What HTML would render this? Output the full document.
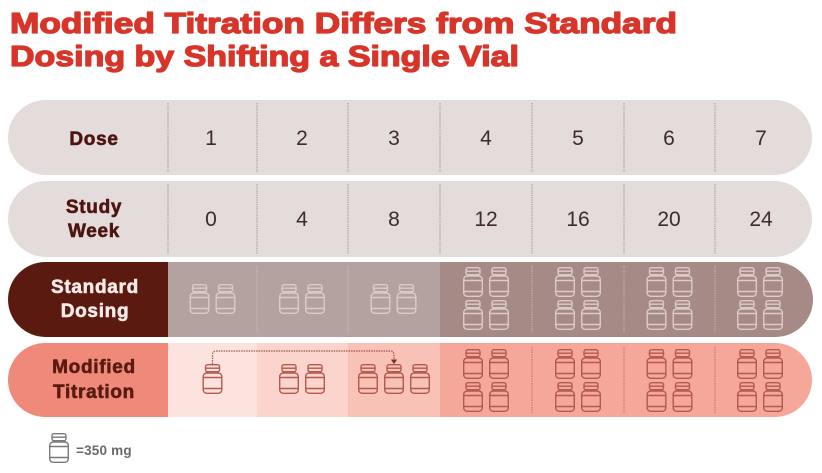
<!DOCTYPE html>
<html>
<head>
<meta charset="utf-8">
<style>
  html,body{margin:0;padding:0;background:#ffffff;}
  body{width:822px;height:473px;overflow:hidden;}
  svg{display:block;}
  .title{font-family:"Liberation Sans",Arial,sans-serif;font-weight:bold;font-size:28.5px;fill:#d8352a;stroke:#d8352a;stroke-width:1.3px;stroke-linejoin:round;}
  .lab{font-family:"Liberation Sans",Arial,sans-serif;font-weight:bold;font-size:19px;letter-spacing:0.7px;text-anchor:middle;stroke-width:0.6px;stroke-linejoin:round;}
  .num{font-family:"Liberation Sans",Arial,sans-serif;font-size:21px;fill:#3f2b2b;text-anchor:middle;}
  .leg{font-family:"Liberation Sans",Arial,sans-serif;font-size:13.5px;fill:#6a6a6a;font-weight:bold;letter-spacing:0.2px;}
</style>
</head>
<body>
<svg width="822" height="473" viewBox="0 0 822 473" xmlns="http://www.w3.org/2000/svg">
  <defs>
    <g id="vial" fill="none" stroke-width="1.4">
      <rect x="3" y="0.7" width="14" height="7" rx="2"/>
      <line x1="3" y1="4.2" x2="17" y2="4.2"/>
      <line x1="4.5" y1="7.7" x2="4.5" y2="9"/>
      <line x1="15.5" y1="7.7" x2="15.5" y2="9"/>
      <rect x="0.7" y="9" width="18.6" height="20.3" rx="3.5"/>
      <line x1="0.7" y1="13.5" x2="19.3" y2="13.5"/>
      <line x1="0.7" y1="24.5" x2="19.3" y2="24.5"/>
      <polygon points="9,13.5 19.3,13.5 19.3,24.5 11,24.5 14,21.5 10,19 13,16.5" stroke="none" fill-opacity="0.45"/>
    </g>
    <clipPath id="r3"><rect x="8" y="262" width="805" height="75" rx="37.5"/></clipPath>
    <clipPath id="r4"><rect x="8" y="343" width="804" height="74" rx="37"/></clipPath>
  </defs>

  <!-- Title -->
  <text class="title" x="10" y="33" textLength="667" lengthAdjust="spacingAndGlyphs">Modified Titration Differs from Standard</text>
  <text class="title" x="10" y="66" textLength="509" lengthAdjust="spacingAndGlyphs">Dosing by Shifting a Single Vial</text>

  <!-- Row 1: Dose -->
  <rect x="8" y="100" width="804" height="75" rx="37.5" fill="#e4dcdb"/>
  <!-- Row 2: Study Week -->
  <rect x="8" y="181" width="804" height="76" rx="38" fill="#e4dcdb"/>

  <g stroke="#9b8f8e" stroke-width="1" stroke-dasharray="1.2 1">
    <line x1="168" y1="103" x2="168" y2="172"/>
    <line x1="257" y1="103" x2="257" y2="172"/>
    <line x1="348" y1="103" x2="348" y2="172"/>
    <line x1="440" y1="103" x2="440" y2="172"/>
    <line x1="532" y1="103" x2="532" y2="172"/>
    <line x1="624" y1="103" x2="624" y2="172"/>
    <line x1="715" y1="103" x2="715" y2="172"/>
    <line x1="168" y1="184" x2="168" y2="254"/>
    <line x1="257" y1="184" x2="257" y2="254"/>
    <line x1="348" y1="184" x2="348" y2="254"/>
    <line x1="440" y1="184" x2="440" y2="254"/>
    <line x1="532" y1="184" x2="532" y2="254"/>
    <line x1="624" y1="184" x2="624" y2="254"/>
    <line x1="715" y1="184" x2="715" y2="254"/>
  </g>

  <text class="lab" x="94" y="145" fill="#4d1510" stroke="#4d1510">Dose</text>
  <text class="num" x="211" y="145">1</text>
  <text class="num" x="302" y="145">2</text>
  <text class="num" x="394" y="145">3</text>
  <text class="num" x="486" y="145">4</text>
  <text class="num" x="578" y="145">5</text>
  <text class="num" x="669" y="145">6</text>
  <text class="num" x="761" y="145">7</text>

  <text class="lab" x="94" y="213" fill="#4d1510" stroke="#4d1510">Study</text>
  <text class="lab" x="94" y="237" fill="#4d1510" stroke="#4d1510">Week</text>
  <text class="num" x="211" y="226">0</text>
  <text class="num" x="302" y="226">4</text>
  <text class="num" x="394" y="226">8</text>
  <text class="num" x="486" y="226">12</text>
  <text class="num" x="578" y="226">16</text>
  <text class="num" x="669" y="226">20</text>
  <text class="num" x="761" y="226">24</text>

  <!-- Row 3: Standard Dosing -->
  <g clip-path="url(#r3)">
    <rect x="0" y="262" width="168" height="75" fill="#5b1a10"/>
    <rect x="168" y="262" width="272" height="75" fill="#b4a2a0"/>
    <rect x="440" y="262" width="380" height="75" fill="#a68a86"/>
  </g>
  <g stroke="#cdbcb9" stroke-width="1" stroke-dasharray="1.2 1.2">
    <line x1="257" y1="266" x2="257" y2="333"/>
    <line x1="348" y1="266" x2="348" y2="333"/>
    <line x1="532" y1="266" x2="532" y2="333"/>
    <line x1="624" y1="266" x2="624" y2="333"/>
    <line x1="715" y1="266" x2="715" y2="333"/>
  </g>
  <text class="lab" x="95" y="293" fill="#f6ebe8" stroke="#f6ebe8">Standard</text>
  <text class="lab" x="95" y="317" fill="#f6ebe8" stroke="#f6ebe8">Dosing</text>

  <g stroke="#dccbc8" fill="#dccbc8">
    <use href="#vial" x="189.5" y="284"/>
    <use href="#vial" x="215.5" y="284"/>
    <use href="#vial" x="279" y="284"/>
    <use href="#vial" x="305" y="284"/>
    <use href="#vial" x="370.5" y="284"/>
    <use href="#vial" x="396.5" y="284"/>

    <use href="#vial" x="463" y="267"/>
    <use href="#vial" x="489" y="267"/>
    <use href="#vial" x="463" y="300"/>
    <use href="#vial" x="489" y="300"/>

    <use href="#vial" x="555" y="267"/>
    <use href="#vial" x="581" y="267"/>
    <use href="#vial" x="555" y="300"/>
    <use href="#vial" x="581" y="300"/>

    <use href="#vial" x="646.5" y="267"/>
    <use href="#vial" x="672.5" y="267"/>
    <use href="#vial" x="646.5" y="300"/>
    <use href="#vial" x="672.5" y="300"/>

    <use href="#vial" x="737" y="267"/>
    <use href="#vial" x="763" y="267"/>
    <use href="#vial" x="737" y="300"/>
    <use href="#vial" x="763" y="300"/>
  </g>

  <!-- Row 4: Modified Titration -->
  <g clip-path="url(#r4)">
    <rect x="0" y="343" width="168" height="74" fill="#ef8a7a"/>
    <rect x="168" y="343" width="89" height="74" fill="#fde3dd"/>
    <rect x="257" y="343" width="91" height="74" fill="#fbd5cd"/>
    <rect x="348" y="343" width="92" height="74" fill="#f8c2b7"/>
    <rect x="440" y="343" width="380" height="74" fill="#f5a79a"/>
  </g>
  <g stroke="#c0645a" stroke-width="1" stroke-dasharray="1.2 1.2">
    <line x1="532" y1="347" x2="532" y2="413"/>
    <line x1="624" y1="347" x2="624" y2="413"/>
    <line x1="715" y1="347" x2="715" y2="413"/>
  </g>
  <text class="lab" x="94" y="373" fill="#5a1a12" stroke="#5a1a12">Modified</text>
  <text class="lab" x="94" y="398" fill="#5a1a12" stroke="#5a1a12">Titration</text>

  <!-- shift arrow -->
  <path d="M212.5 364 V355 Q212.5 351 216.5 351 H390 Q394 351 394 355 V360" fill="none" stroke="#9a4a40" stroke-width="1.2" stroke-dasharray="1.4 1.1"/>
  <polygon points="390.8,359.5 397.2,359.5 394,364" fill="#7a3028"/>

  <g stroke="#b35a4e" fill="#b35a4e">
    <use href="#vial" x="202.5" y="364"/>
    <use href="#vial" x="279" y="364"/>
    <use href="#vial" x="305" y="364"/>
    <use href="#vial" x="358" y="364"/>
    <use href="#vial" x="384" y="364"/>
    <use href="#vial" x="410" y="364"/>

    <use href="#vial" x="463" y="349"/>
    <use href="#vial" x="489" y="349"/>
    <use href="#vial" x="463" y="382"/>
    <use href="#vial" x="489" y="382"/>

    <use href="#vial" x="555" y="349"/>
    <use href="#vial" x="581" y="349"/>
    <use href="#vial" x="555" y="382"/>
    <use href="#vial" x="581" y="382"/>

    <use href="#vial" x="646.5" y="349"/>
    <use href="#vial" x="672.5" y="349"/>
    <use href="#vial" x="646.5" y="382"/>
    <use href="#vial" x="672.5" y="382"/>

    <use href="#vial" x="737" y="349"/>
    <use href="#vial" x="763" y="349"/>
    <use href="#vial" x="737" y="382"/>
    <use href="#vial" x="763" y="382"/>
  </g>

  <!-- Legend -->
  <g stroke="#7a7a7a" fill="#7a7a7a">
    <use href="#vial" x="49" y="433"/>
  </g>
  <text class="leg" x="76" y="455">=350 mg</text>
</svg>
</body>
</html>
